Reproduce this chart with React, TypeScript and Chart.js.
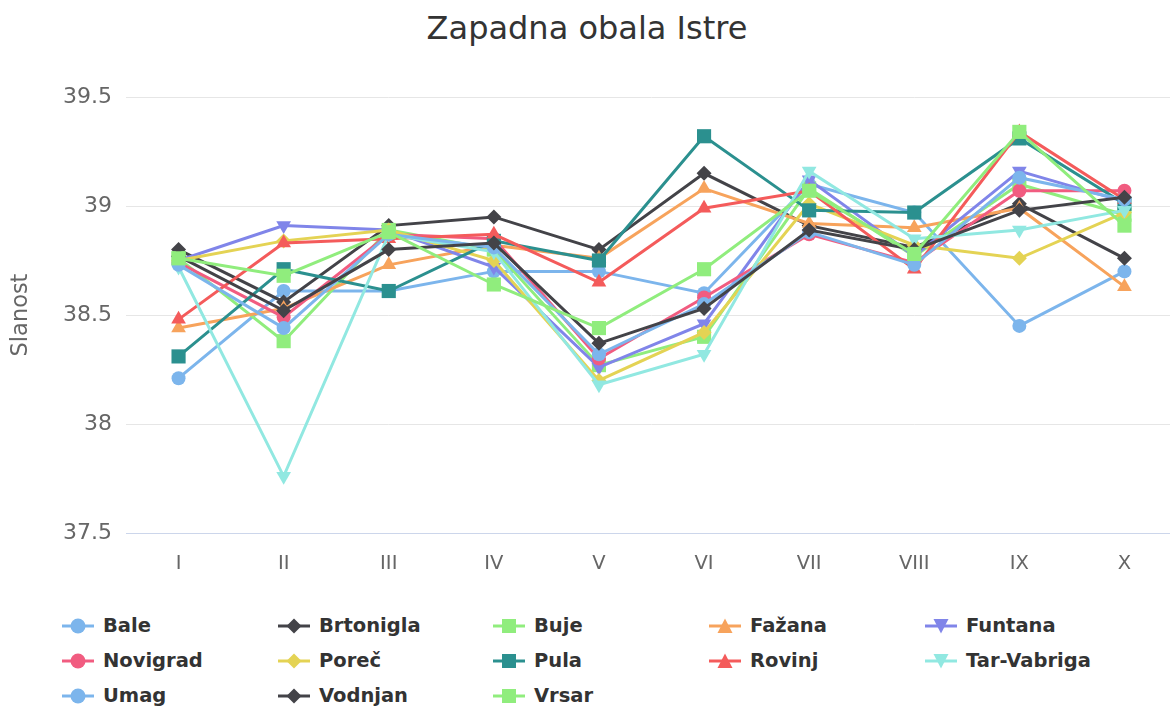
import React, { useEffect, useRef } from "react";
import { Chart, registerables } from "chart.js";

Chart.register(...registerables);

const categories = ["I", "II", "III", "IV", "V", "VI", "VII", "VIII", "IX", "X"];
const yTicks = [37.5, 38, 38.5, 39, 39.5];

const bale = [38.21, 38.61, 38.61, 38.7, 38.7, 38.6, 39.1, 38.97, 38.45, 38.7];
const brtonigla = [38.8, 38.56, 38.91, 38.95, 38.8, 39.15, 38.91, 38.81, 39.01, 38.76];
const buje = [38.76, 38.38, 38.89, 38.8, 38.27, 38.4, 39.08, 38.77, 39.1, 38.96];
const fazana = [38.44, 38.53, 38.73, 38.82, 38.76, 39.08, 38.92, 38.9, 38.99, 38.63];
const funtana = [38.75, 38.91, 38.89, 38.72, 38.26, 38.46, 39.12, 38.77, 39.16, 39.02];
const novigrad = [38.74, 38.49, 38.87, 38.85, 38.3, 38.58, 38.87, 38.74, 39.07, 39.07];
const porec = [38.75, 38.84, 38.89, 38.75, 38.2, 38.42, 39.01, 38.82, 38.76, 38.97];
const pula = [38.31, 38.71, 38.61, 38.84, 38.75, 39.32, 38.98, 38.97, 39.31, 39.01];
const rovinj = [38.48, 38.83, 38.85, 38.87, 38.65, 38.99, 39.07, 38.71, 39.34, 39.03];
const tarVabriga = [38.72, 37.76, 38.87, 38.79, 38.18, 38.32, 39.16, 38.85, 38.89, 38.98];
const umag = [38.73, 38.44, 38.87, 38.81, 38.32, 38.55, 38.88, 38.73, 39.13, 39.03];
const vodnjan = [38.77, 38.52, 38.8, 38.83, 38.37, 38.53, 38.89, 38.8, 38.98, 39.04];
const vrsar = [38.76, 38.68, 38.88, 38.64, 38.44, 38.71, 39.07, 38.78, 39.34, 38.91];

const seriesNames = [
  "Bale", "Brtonigla", "Buje", "Fažana", "Funtana", "Novigrad", "Poreč",
  "Pula", "Rovinj", "Tar-Vabriga", "Umag", "Vodnjan", "Vrsar",
];
const seriesData = [
  bale, brtonigla, buje, fazana, funtana, novigrad, porec,
  pula, rovinj, tarVabriga, umag, vodnjan, vrsar,
];
const colors = [
  "#7cb5ec", "#434348", "#90ed7d", "#f7a35c", "#8085e9", "#f15c80", "#e4d354",
  "#2b908f", "#f45b5b", "#91e8e1", "#7cb5ec", "#434348", "#90ed7d",
];
const shapes = ["circle", "diamond", "square", "triangle", "triangle-down"];

const FONT = "'DejaVu Sans', Verdana, sans-serif";

function pointCfg(shape: string) {
  switch (shape) {
    case "circle":
      return { pointStyle: "circle", radius: 7, rotation: 0 };
    case "diamond":
      return { pointStyle: "rectRot", radius: 7.5, rotation: 0 };
    case "square":
      return { pointStyle: "rect", radius: 10, rotation: 0 };
    case "triangle":
      return { pointStyle: "triangle", radius: 8.5, rotation: 0 };
    default:
      return { pointStyle: "triangle", radius: 8.5, rotation: 180 };
  }
}

function LegendSymbol({ color, shape }: { color: string; shape: string }) {
  let marker: React.ReactNode = null;
  const cx = 16, cy = 10;
  if (shape === "circle") marker = <circle cx={cx} cy={cy} r={7.5} fill={color} />;
  else if (shape === "diamond")
    marker = <polygon points={`${cx},${cy - 7.5} ${cx + 7.5},${cy} ${cx},${cy + 7.5} ${cx - 7.5},${cy}`} fill={color} />;
  else if (shape === "square") marker = <rect x={cx - 7} y={cy - 7} width={14} height={14} fill={color} />;
  else if (shape === "triangle")
    marker = <polygon points={`${cx},${cy - 7.5} ${cx + 7.5},${cy + 7} ${cx - 7.5},${cy + 7}`} fill={color} />;
  else marker = <polygon points={`${cx - 7.5},${cy - 7} ${cx + 7.5},${cy - 7} ${cx},${cy + 7.5}`} fill={color} />;
  return (
    <svg width={32} height={20} style={{ display: "block" }}>
      <line x1={0} y1={cy} x2={32} y2={cy} stroke={color} strokeWidth={3} />
      {marker}
    </svg>
  );
}

const legendCols = [78, 294, 509, 725, 941];
const legendRows = [626, 661, 696];

export default function App() {
  const ref = useRef<HTMLCanvasElement>(null);

  useEffect(() => {
    if (!ref.current) return;
    const n = seriesNames.length;
    const datasets = seriesNames.map((name, i) => {
      const p = pointCfg(shapes[i % 5]);
      return {
        label: name,
        data: seriesData[i],
        borderColor: colors[i],
        backgroundColor: colors[i],
        borderWidth: 3,
        pointStyle: p.pointStyle as any,
        pointRadius: p.radius,
        pointRotation: p.rotation,
        pointBorderWidth: 0,
        pointHoverRadius: p.radius,
        tension: 0,
        order: n - i,
      };
    });
    const chart = new Chart(ref.current, {
      type: "line",
      data: { labels: categories, datasets },
      options: {
        animation: false,
        responsive: false,
        events: [],
        layout: { padding: { left: 0, right: 0, top: 97, bottom: 0 } },
        plugins: {
          legend: { display: false },
          tooltip: { enabled: false },
          title: { display: false },
        },
        scales: {
          x: {
            type: "category",
            offset: true,
            grid: { display: false, drawTicks: false },
            border: { display: true, color: "#ccd6eb", width: 1 },
            ticks: { color: "#666666", font: { family: FONT, size: 19.5 }, padding: 19 },
            afterFit: (scale: any) => {
              scale.height = 67;
            },
          },
          y: {
            min: 37.5,
            max: 39.5,
            afterBuildTicks: (scale: any) => {
              scale.ticks = yTicks.map((v) => ({ value: v }));
            },
            grid: { color: "#e6e6e6", drawTicks: false, lineWidth: 1 },
            border: { display: false },
            ticks: {
              color: "#666666",
              font: { family: FONT, size: 22 },
              padding: 14,
              callback: (v: any) => String(v),
            },
            title: {
              display: true,
              text: "Slanost",
              color: "#666666",
              font: { family: FONT, size: 22.5 },
              padding: { top: 8, bottom: 0 },
            },
            afterFit: (scale: any) => {
              scale.width = 126;
            },
          },
        },
      },
    });
    return () => chart.destroy();
  }, []);

  return (
    <div style={{ position: "fixed", left: 0, top: 0, width: 1170, height: 709, background: "#ffffff", overflow: "hidden" }}>
      <div
        style={{
          position: "absolute",
          left: 0,
          width: 1174,
          top: 9,
          textAlign: "center",
          fontFamily: FONT,
          fontSize: 32,
          lineHeight: "38px",
          color: "#333333",
        }}
      >
        Zapadna obala Istre
      </div>
      <canvas ref={ref} width={1187} height={600} style={{ position: "absolute", left: 0, top: 0 }} />
      {seriesNames.map((name, i) => {
        const col = i % 5;
        const row = Math.floor(i / 5);
        return (
          <div
            key={name}
            style={{
              position: "absolute",
              left: legendCols[col] - 16,
              top: legendRows[row] - 11,
              height: 22,
              display: "flex",
              alignItems: "center",
              fontFamily: FONT,
              fontWeight: "bold",
              fontSize: 19.5,
              color: "#333333",
              whiteSpace: "nowrap",
            }}
          >
            <LegendSymbol color={colors[i]} shape={shapes[i % 5]} />
            <span style={{ marginLeft: 9, lineHeight: "22px" }}>{name}</span>
          </div>
        );
      })}
    </div>
  );
}
